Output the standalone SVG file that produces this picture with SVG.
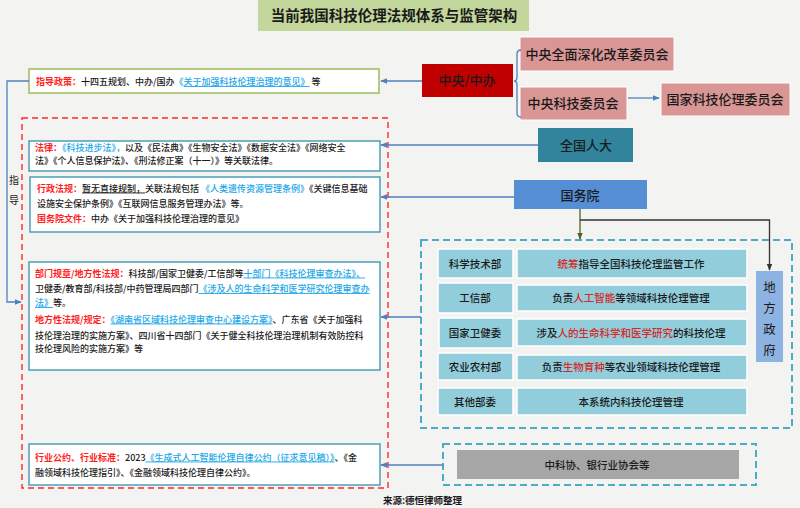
<svg xmlns="http://www.w3.org/2000/svg" width="800" height="508" viewBox="0 0 800 508">
<defs>
<style>
text{font-family:"Noto Sans CJK SC","Noto Sans",sans-serif;fill:#1a1a1a;}
.t9{font-size:9px;font-weight:500;}
.lbl{fill:#ff1f1f;font-weight:bold;}
.lnk{fill:#1aa7e8;}
.ul{text-decoration:underline;}
.org{font-size:13px;text-anchor:middle;fill:#1a1a1a;font-weight:500;}
.row{font-size:10.5px;text-anchor:middle;fill:#1a1a1a;font-weight:500;}
.hl{fill:#d42a2a;}
.cell{fill:#92cddc;stroke:#ffffff;stroke-width:1.5;}
.lawbox{fill:#ffffff;stroke:#4f9fb8;stroke-width:1.5;}
.conn{stroke:#4f81bd;stroke-width:1.3;fill:none;}
</style>
<marker id="ab" viewBox="0 0 10 10" refX="9" refY="5" markerWidth="7" markerHeight="7" orient="auto-start-reverse" markerUnits="userSpaceOnUse">
<path d="M0,1 L10,5 L0,9 z" fill="#4f81bd"/>
</marker>
<marker id="ag" viewBox="0 0 10 10" refX="9" refY="5" markerWidth="7" markerHeight="7" orient="auto" markerUnits="userSpaceOnUse">
<path d="M0,1 L10,5 L0,9 z" fill="#4f6228"/>
</marker>
<marker id="ak" viewBox="0 0 10 10" refX="9" refY="5" markerWidth="7" markerHeight="7" orient="auto" markerUnits="userSpaceOnUse">
<path d="M0,1 L10,5 L0,9 z" fill="#333333"/>
</marker>
</defs>
<rect x="0" y="0" width="800" height="508" fill="#f3f3f1"/>

<g id="title">
<rect x="258" y="0" width="271" height="31" fill="#c3d69b"/>
<text x="394" y="21" font-size="14.5" font-weight="bold" text-anchor="middle" fill="#111">当前我国科技伦理法规体系与监管架构</text>
</g>

<g id="red-frame">
<rect x="22" y="118" width="366" height="370" fill="none" stroke="#ff2a2a" stroke-width="1.4" stroke-dasharray="6,4"/>
</g>

<g id="policy">
<rect x="29" y="69" width="350" height="24" fill="#ffffff" stroke="#9bbb59" stroke-width="1.5"/>
<text class="t9" x="36" y="85"><tspan class="lbl">指导政策：</tspan>十四五规划、中办/国办<tspan class="lnk">《</tspan><tspan class="lnk ul">关于加强科技伦理治理的意见》</tspan> 等</text>
</g>

<g id="law">
<rect class="lawbox" x="29" y="141" width="351" height="30"/>
<text class="t9" x="35" y="151"><tspan class="lbl">法律：</tspan><tspan class="lnk">《科技进步法》，</tspan>以及《民法典》《生物安全法》《数据安全法》《网络安全</text>
<text class="t9" x="35" y="164">法》《个人信息保护法》、《刑法修正案（十一）》等关联法律。</text>
</g>

<g id="admin">
<rect class="lawbox" x="30" y="177" width="350" height="55"/>
<text class="t9" x="37" y="191.5"><tspan class="lbl">行政法规：</tspan><tspan class="ul">暂无直接规制，</tspan>关联法规包括 <tspan class="lnk">《人类遗传资源管理条例》</tspan>《关键信息基础</text>
<text class="t9" x="37" y="207">设施安全保护条例》《互联网信息服务管理办法》等。</text>
<text class="t9" x="37" y="221.5"><tspan class="lbl">国务院文件：</tspan>中办《关于加强科技伦理治理的意见》</text>
</g>

<g id="rules">
<rect class="lawbox" x="29" y="262" width="351" height="108"/>
<text class="t9" x="35" y="276.5"><tspan class="lbl">部门规章/地方性法规：</tspan>科技部/国家卫健委/工信部等<tspan class="lnk ul">十部门《科技伦理审查办法》、</tspan></text>
<text class="t9" x="35" y="292">卫健委/教育部/科技部/中药管理局四部门<tspan class="lnk ul">《涉及人的生命科学和医学研究伦理审查办</tspan></text>
<text class="t9" x="35" y="306"><tspan class="lnk ul">法》</tspan>等。</text>
<text class="t9" x="35" y="322.5"><tspan class="lbl">地方性法规/规定：</tspan><tspan class="lnk ul">《湖南省区域科技伦理审查中心建设方案》</tspan>、广东省《关于加强科</text>
<text class="t9" x="35" y="338.5">技伦理治理的实施方案》、四川省十四部门《关于健全科技伦理治理机制有效防控科</text>
<text class="t9" x="35" y="352">技伦理风险的实施方案》等</text>
</g>

<g id="industry">
<rect class="lawbox" x="29" y="444" width="351" height="41"/>
<text class="t9" x="35" y="460.5"><tspan class="lbl">行业公约、行业标准：</tspan>2023<tspan class="lnk ul">《生成式人工智能伦理自律公约（征求意见稿）》</tspan>、《金</text>
<text class="t9" x="35" y="475.5">融领域科技伦理指引》、《金融领域科技伦理自律公约》。</text>
</g>

<g id="central">
<rect x="422" y="64" width="91" height="33" fill="#c00000"/>
<text class="org" x="467" y="85" font-size="12.5">中央/中办</text>
</g>
<g id="reform-committee">
<rect x="520" y="37" width="154" height="34" fill="#d99694" stroke="#ffffff" stroke-width="1"/>
<text class="org" x="597" y="59">中央全面深化改革委员会</text>
</g>
<g id="st-committee">
<rect x="520" y="87" width="107" height="33" fill="#d99694" stroke="#ffffff" stroke-width="1"/>
<text class="org" x="573" y="108">中央科技委员会</text>
</g>
<g id="ethics-committee">
<rect x="661" y="83" width="129" height="33" fill="#d99694" stroke="#ffffff" stroke-width="1"/>
<text class="org" x="725" y="104">国家科技伦理委员会</text>
</g>
<g id="npc">
<rect x="538" y="128" width="95" height="34" fill="#31849b"/>
<text class="org" x="586" y="149.5" font-size="12.5">全国人大</text>
</g>
<g id="state-council">
<rect x="514" y="180" width="133" height="29" fill="#558ed5"/>
<text class="org" x="580" y="199.5" font-size="12">国务院</text>
</g>

<g id="ministries">
<rect x="421" y="240" width="371" height="188" fill="none" stroke="#4bacc6" stroke-width="2" stroke-dasharray="7,4"/>
<g id="most">
<rect class="cell" x="438" y="249" width="75" height="29"/>
<rect class="cell" x="517" y="249" width="230" height="29"/>
<text class="row" x="475" y="267.5">科学技术部</text>
<text class="row" x="631" y="267.5"><tspan class="hl">统筹</tspan>指导全国科技伦理监管工作</text>
</g>
<g id="miit">
<rect class="cell" x="438" y="283" width="75" height="30"/>
<rect class="cell" x="517" y="285" width="230" height="26"/>
<text class="row" x="475" y="301.5">工信部</text>
<text class="row" x="631" y="301.5">负责<tspan class="hl">人工智能</tspan>等领域科技伦理管理</text>
</g>
<g id="nhc">
<rect class="cell" x="439" y="318" width="74" height="30"/>
<rect class="cell" x="517" y="319" width="230" height="27"/>
<text class="row" x="475" y="336.5">国家卫健委</text>
<text class="row" x="631" y="336.5">涉及<tspan class="hl">人的生命科学和医学研究</tspan>的科技伦理</text>
</g>
<g id="moa">
<rect class="cell" x="438" y="353" width="75" height="27"/>
<rect class="cell" x="517" y="355" width="230" height="25"/>
<text class="row" x="475" y="370.5">农业农村部</text>
<text class="row" x="631" y="370.5">负责<tspan class="hl">生物育种</tspan>等农业领域科技伦理管理</text>
</g>
<g id="others">
<rect class="cell" x="438" y="388" width="75" height="27"/>
<rect class="cell" x="517" y="388" width="230" height="27"/>
<text class="row" x="475" y="405.5">其他部委</text>
<text class="row" x="631" y="405.5">本系统内科技伦理管理</text>
</g>
</g>

<g id="local-gov">
<rect x="756" y="271" width="27" height="91" fill="#8db3e2"/>
<text x="769.5" y="292" font-size="12.5" text-anchor="middle" fill="#1a1a1a">地</text>
<text x="769.5" y="313" font-size="12.5" text-anchor="middle" fill="#1a1a1a">方</text>
<text x="769.5" y="334" font-size="12.5" text-anchor="middle" fill="#1a1a1a">政</text>
<text x="769.5" y="355" font-size="12.5" text-anchor="middle" fill="#1a1a1a">府</text>
</g>

<g id="associations">
<rect x="443" y="444" width="313" height="41" fill="none" stroke="#4bacc6" stroke-width="2" stroke-dasharray="7,4"/>
<rect x="457" y="450" width="282" height="29" fill="#a6a6a6"/>
<text class="row" x="597" y="468.5" font-size="10.7">中科协、银行业协会等</text>
</g>

<g id="connectors">
<path class="conn" d="M422,81 L381,81" marker-end="url(#ab)"/>
<path class="conn" d="M521,50 Q517,50 517,54 L517,77 Q517,81 514,81 Q517,81 517,85 L517,113 Q517,117 521,117" stroke="#6b9bd2"/>
<path class="conn" d="M628,98 L659,98" marker-end="url(#ab)"/>
<path class="conn" d="M538,145 L381,145" marker-end="url(#ab)"/>
<path class="conn" d="M514,197 L381,197" marker-end="url(#ab)"/>
<path class="conn" d="M421,317 L381,317" marker-end="url(#ab)"/>
<path class="conn" d="M443,465 L381,465" marker-end="url(#ab)"/>
<path class="conn" d="M29,81 L7,81 L7,302 L21,302" marker-end="url(#ab)"/>
<path d="M580,209 L580,239" stroke="#4f6228" stroke-width="1.3" fill="none" marker-end="url(#ag)"/>
<path d="M580,220 L769.5,220 L769.5,270" stroke="#333333" stroke-width="1.3" fill="none" marker-end="url(#ak)"/>
</g>

<g id="guide-label">
<text x="14" y="184" font-size="10" text-anchor="middle" fill="#222">指</text>
<text x="14" y="204" font-size="10" text-anchor="middle" fill="#222">导</text>
</g>

<text x="383" y="503.5" font-size="9.5" font-weight="bold" fill="#111">来源:德恒律师整理</text>
</svg>
